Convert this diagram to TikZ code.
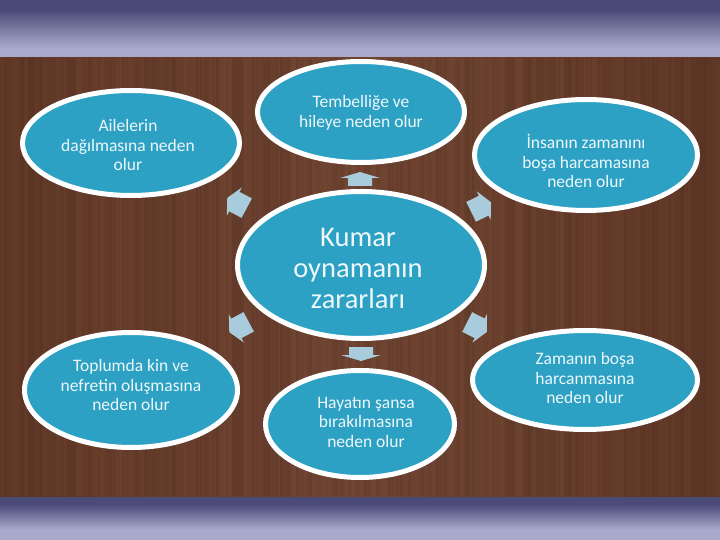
\documentclass[tikz,border=0pt]{standalone}
\usepackage{fontspec}
\setmainfont{Carlito}
\usetikzlibrary{shapes.geometric,shadows}
\definecolor{bandDark}{HTML}{4A4B78}
\definecolor{bandLight}{HTML}{A9AACB}
\definecolor{woodMid}{HTML}{6E4331}
\definecolor{woodEdge}{HTML}{5E3625}
\definecolor{grainDark}{HTML}{3E2216}
\definecolor{grainLight}{HTML}{8A5A40}
\definecolor{bubble}{HTML}{2CA1C4}
\definecolor{bubbleText}{HTML}{EEF7FA}
\definecolor{arrowFill}{HTML}{A9CCDC}
\tikzset{
  bub/.style={ellipse, draw=white, line width=5pt, fill=bubble, inner sep=0pt,
    drop shadow={opacity=0.25, shadow xshift=0.5pt, shadow yshift=-1.5pt}},
  smalltxt/.style={text=bubbleText, align=center, font=\fontsize{17.5}{19.5}\selectfont, inner sep=0pt},
  bigtxt/.style={text=bubbleText, align=center, font=\fontsize{28.5}{31}\selectfont, inner sep=0pt},
  arrowshape/.style={fill=arrowFill}
}
% x, y, angle, length, head length, head width, shaft width
\newcommand\blockarr[7]{%
  \fill[arrowshape, shift={(#1,#2)}, rotate=#3]
    (-#4/2,-#7/2) -- (#4/2-#5,-#7/2) -- (#4/2-#5,-#6/2) -- (#4/2,0)
    -- (#4/2-#5,#6/2) -- (#4/2-#5,#7/2) -- (-#4/2,#7/2) -- cycle;}
\begin{document}
\begin{tikzpicture}[x=1pt,y=-1pt]
\useasboundingbox (0,0) rectangle (720,540);
% top band
\fill[bandDark] (0,0) rectangle (720,10);
\shade[top color=bandDark, bottom color=bandLight] (0,10) rectangle (720,48);
\fill[bandLight] (0,48) rectangle (720,58);
% bottom band
\fill[bandDark] (0,496) rectangle (720,504);
\shade[top color=bandDark, bottom color=bandLight] (0,504) rectangle (720,530);
\fill[bandLight] (0,530) rectangle (720,540);
% wood
\shade[left color=woodEdge, right color=woodEdge, middle color=woodMid] (0,58) rectangle (720,496);
\pgfmathsetseed{11}
\foreach \i in {0,...,179}{
  \pgfmathsetmacro\op{0.03+0.12*rnd}
  \pgfmathsetmacro\wd{1.5+4*rnd}
  \pgfmathsetmacro\dk{rnd}
  \ifdim\dk pt>0.5pt
    \fill[grainDark, opacity=\op] (\i*4,58) rectangle ++(\wd,438);
  \else
    \fill[grainLight, opacity=\op] (\i*4,58) rectangle ++(\wd,438);
  \fi
}
% bubbles
\node[bub, minimum width=217pt, minimum height=105pt] (tl) at (131,143) {};
\node[bub, minimum width=207pt, minimum height=101pt] (tc) at (361,112) {};
\node[bub, minimum width=223pt, minimum height=111pt] (tr) at (586,155) {};
\node[bub, minimum width=247pt, minimum height=147pt] (c) at (361,265) {};
\node[bub, minimum width=213pt, minimum height=115pt] (bl) at (131,390) {};
\node[bub, minimum width=189pt, minimum height=107pt] (bc) at (360,424) {};
\node[bub, minimum width=225pt, minimum height=99pt] (br) at (585,380) {};
% texts
\node[smalltxt] (tlt) at (128,145) {Ailelerin\\dağılmasına neden\\olur};
\node[smalltxt] (tct) at (361,113) {Tembelliğe ve\\hileye neden olur};
\node[smalltxt] (trt) at (586,161) {İnsanın zamanını\\boşa harcamasına\\neden olur};
\node[bigtxt] (ct) at (358,268) {Kumar\\oynamanın\\zararları};
\node[smalltxt] (blt) at (131,385) {Toplumda kin ve\\nefretin oluşmasına\\neden olur};
\node[smalltxt] (bct) at (366,422) {Hayatın şansa\\bırakılmasına\\neden olur};
\node[smalltxt] (brt) at (585,378) {Zamanın boşa\\harcanmasına\\neden olur};
% arrows
\blockarr{360}{179}{90}{14}{6}{40}{24}
\blockarr{361}{354}{-90}{14}{6}{40}{24}
\blockarr{237}{203}{152}{22}{8}{32}{22}
\blockarr{481}{207}{26}{22}{8}{32}{22}
\blockarr{239}{327}{208}{22}{8}{32}{22}
\blockarr{477}{327}{-27}{22}{8}{32}{22}
\end{tikzpicture}
\end{document}
